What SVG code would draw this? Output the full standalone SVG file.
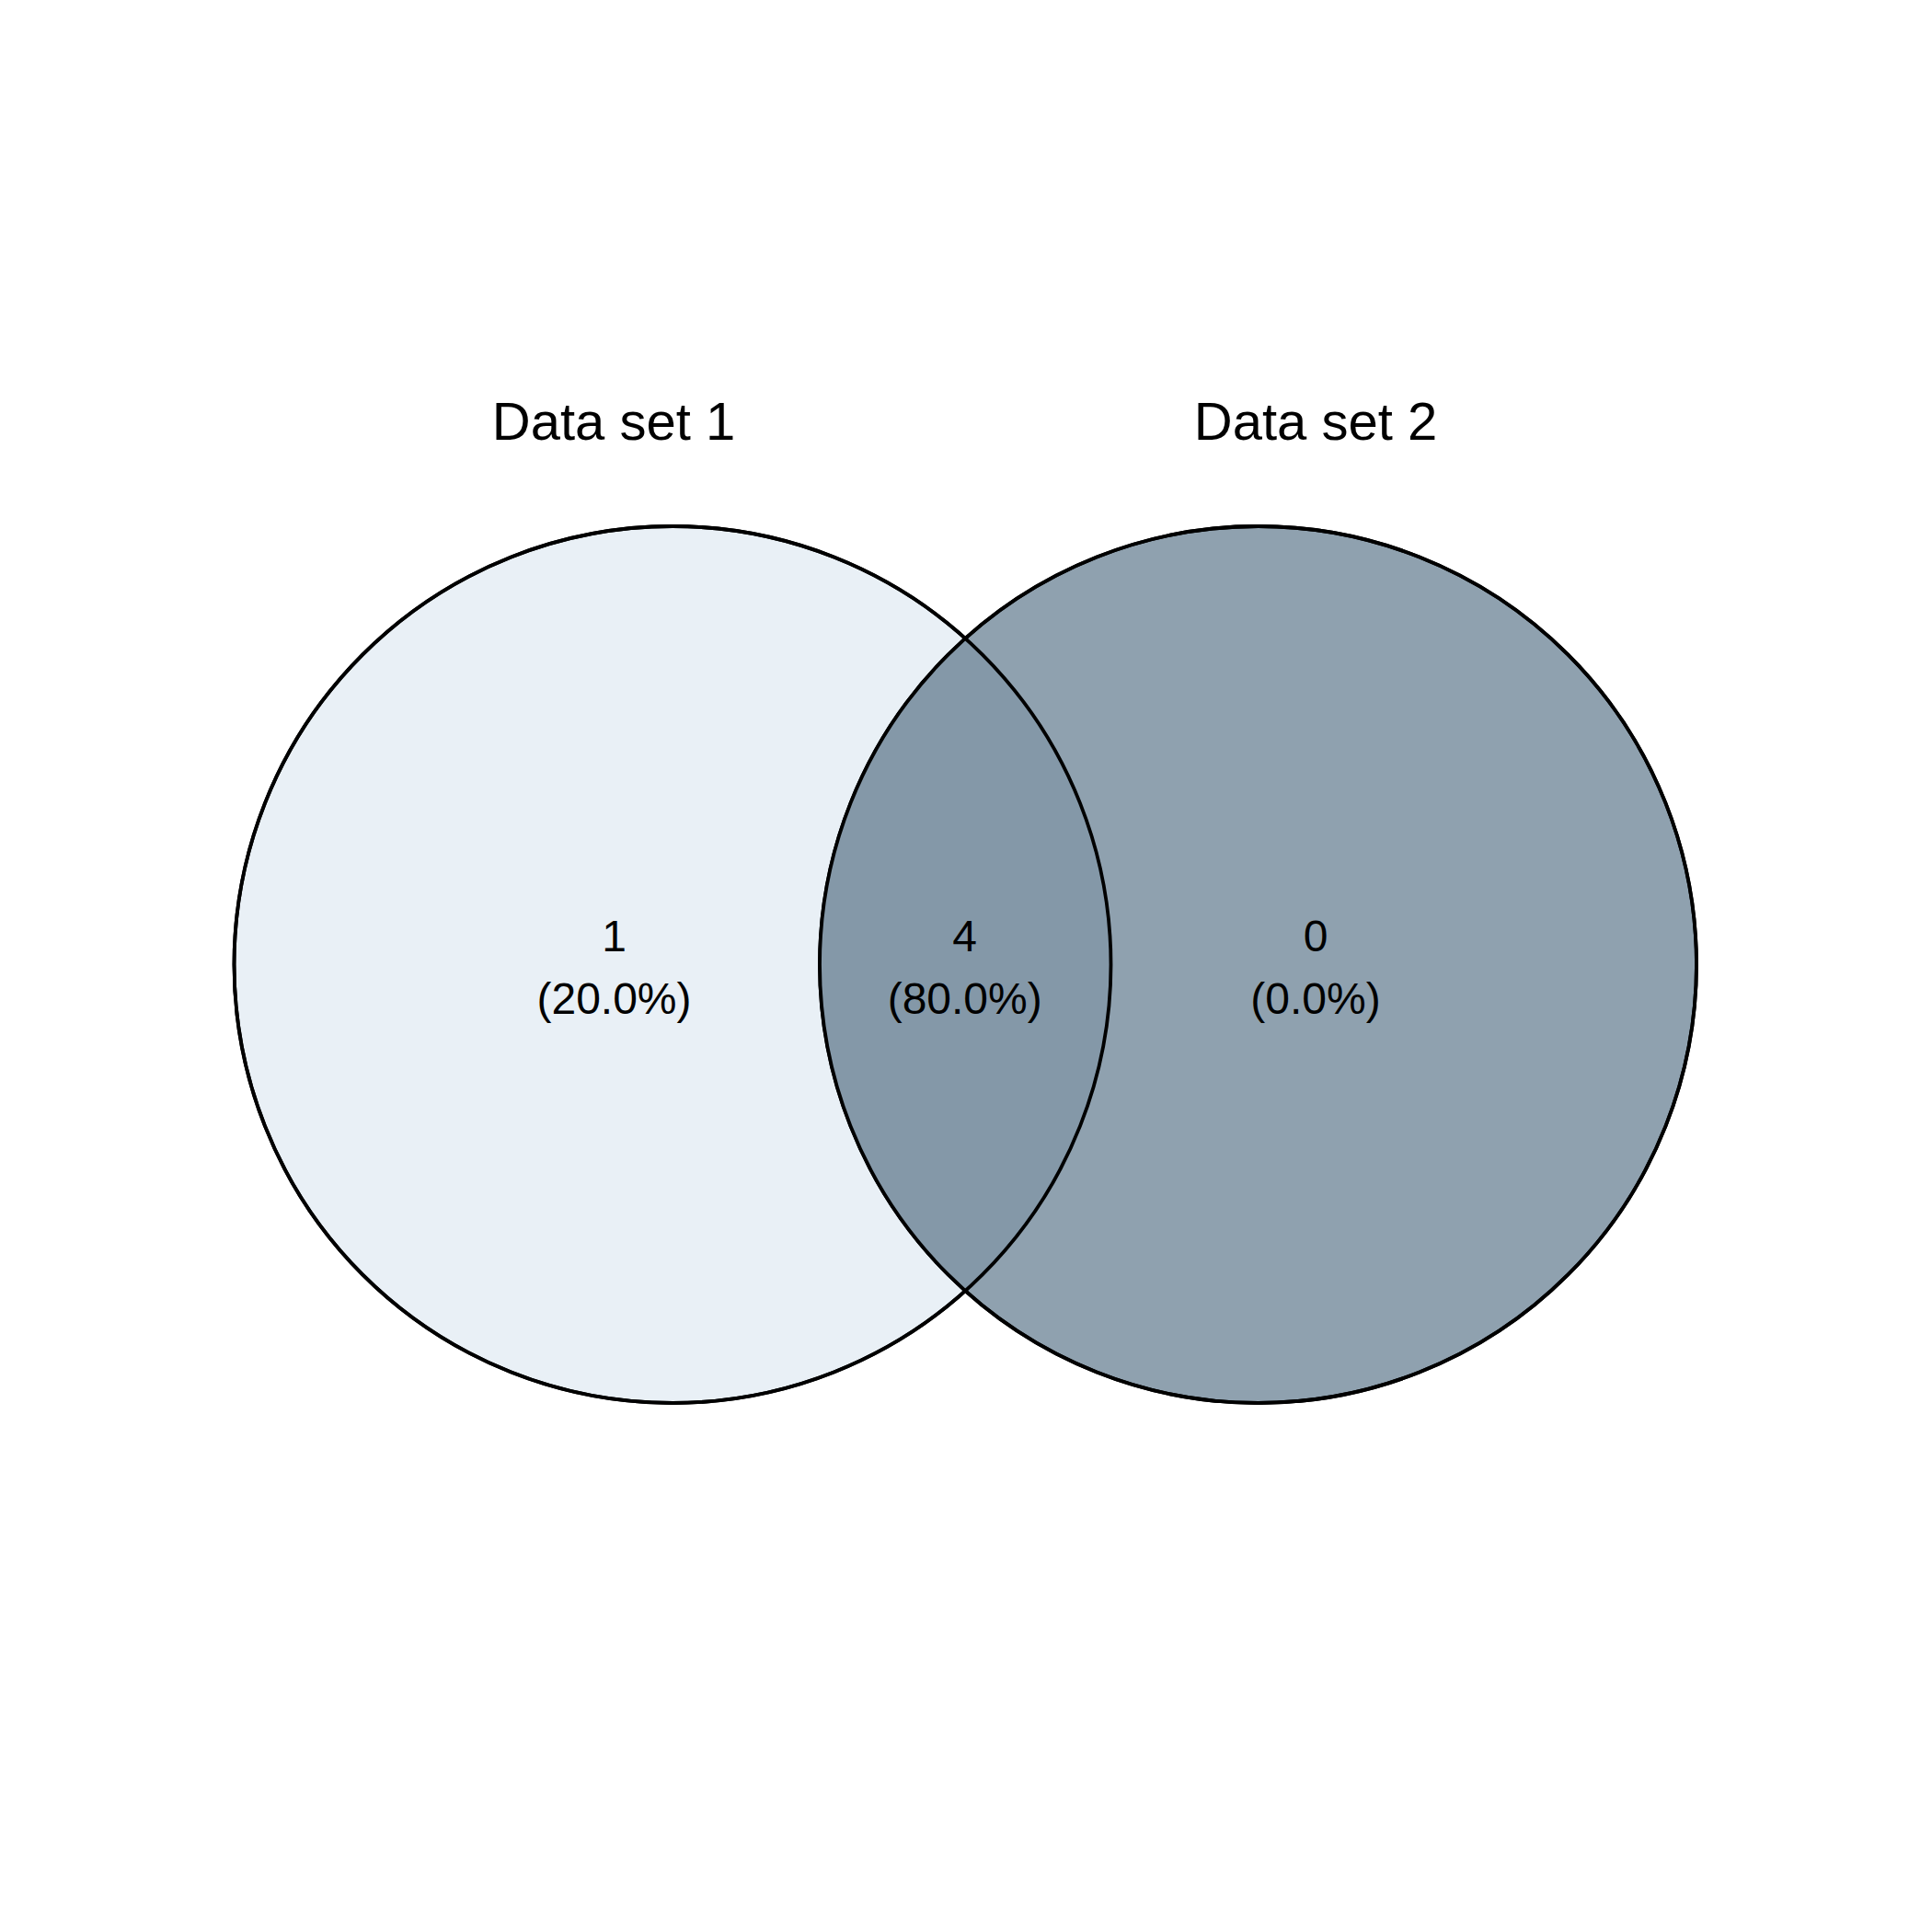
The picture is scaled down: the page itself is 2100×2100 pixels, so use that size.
<svg xmlns="http://www.w3.org/2000/svg" width="2100" height="2100" viewBox="0 0 2100 2100">
<style>
text{font-family:"Liberation Sans",Arial,sans-serif;fill:#000;text-anchor:middle}
.t{font-size:58px}
.n{font-size:48px}
.c{stroke:#000;stroke-width:3.8}
</style>
<rect width="2100" height="2100" fill="#fff"/>
<g id="set1"><circle class="c" cx="731" cy="1048.5" r="476.5" fill="#E9F0F6"/></g>
<g id="set2"><circle class="c" cx="1367.5" cy="1048.5" r="476.5" fill="#8FA1AF"/></g>
<g id="overlap"><path d="M1049.25,693.5 A476.5,476.5 0 0 1 1049.25,1403.5 A476.5,476.5 0 0 1 1049.25,693.5 Z" fill="#8498A8"/></g>
<g id="outlines" fill="none">
<circle class="c" cx="731" cy="1048.5" r="476.5"/>
<circle class="c" cx="1367.5" cy="1048.5" r="476.5"/>
</g>
<g id="labels">
<text class="t" x="667" y="478">Data set 1</text>
<text class="t" x="1430" y="478">Data set 2</text>
<text class="n" x="667.5" y="1034">1</text>
<text class="n" x="667.5" y="1102">(20.0%)</text>
<text class="n" x="1048.7" y="1034">4</text>
<text class="n" x="1048.7" y="1102">(80.0%)</text>
<text class="n" x="1430" y="1034">0</text>
<text class="n" x="1430" y="1102">(0.0%)</text>
</g>
</svg>
